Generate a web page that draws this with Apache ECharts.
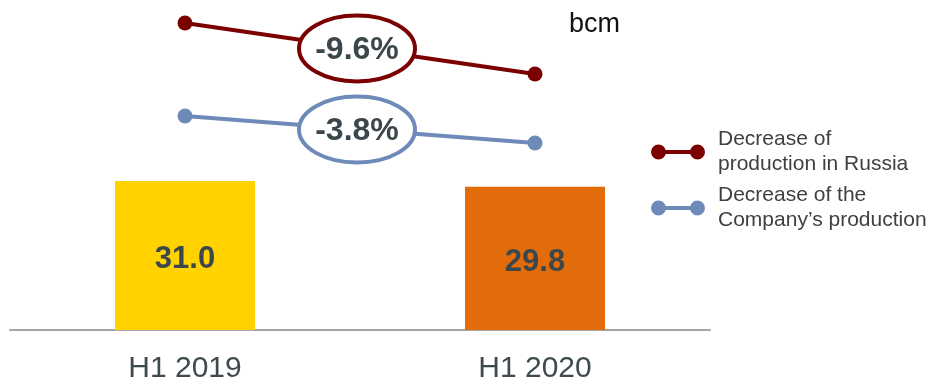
<!DOCTYPE html>
<html>
<head>
<meta charset="utf-8">
<style>
  html, body { margin: 0; padding: 0; background: #fff; }
  #chart { width: 932px; height: 379px; }
</style>
<script src="https://cdn.jsdelivr.net/npm/echarts@6/dist/echarts.min.js"></script>
</head>
<body>
<div id="chart"></div>
<script>
// 数据
const categories = ['H1 2019', 'H1 2020'];
const production = [31.0, 29.8];
const russiaIndex = [100, 90.4];
const companyIndex = [100, 96.2];
const changeLabels = ['-9.6%', '-3.8%'];
const seriesNames = ['Decrease of\nproduction in Russia', 'Decrease of the\nCompany\u2019s production'];

const FONT = '"Liberation Sans", Arial, sans-serif';
const barColors = ['#FFD200', '#E36C0A'];
const lineColors = ['#7B0000', '#6D8AB9'];
const dumbbell = 'path://M0,7.5A7.5,7.5,0,1,1,15,7.5A7.5,7.5,0,1,1,0,7.5Z M39,7.5A7.5,7.5,0,1,1,54,7.5A7.5,7.5,0,1,1,39,7.5Z M7.5,5.5L46.5,5.5L46.5,9.5L7.5,9.5Z';

const chart = echarts.init(document.getElementById('chart'));

function lineSeries(name, data, axis, color) {
    return {
        name: name,
        type: 'line',
        yAxisIndex: axis,
        data: data,
        symbol: 'circle',
        symbolSize: 15,
        lineStyle: { color: color, width: 4 },
        itemStyle: { color: color },
        z: 5
    };
}

chart.setOption({
    animation: false,
    title: {
        text: 'bcm',
        left: 564,
        top: 6,
        textStyle: { fontFamily: FONT, fontSize: 27, fontWeight: 'normal', color: '#111' }
    },
    legend: {
        orient: 'vertical',
        left: 646,
        top: 122,
        itemWidth: 54,
        itemHeight: 15,
        itemGap: 6,
        data: seriesNames.map(n => ({ name: n, icon: dumbbell })),
        textStyle: { fontFamily: FONT, fontSize: 21, lineHeight: 25, color: '#404040', padding: [0, 0, 0, 8] }
    },
    grid: { left: 10, right: 222, top: 0, bottom: 49, containLabel: false, outerBoundsMode: 'none' },
    xAxis: {
        type: 'category',
        data: categories,
        axisLine: { lineStyle: { color: '#A6A6A6', width: 2 } },
        axisTick: { show: false },
        axisLabel: { fontFamily: FONT, fontSize: 30, color: '#3F4A50', margin: 24 }
    },
    yAxis: [
        { type: 'value', min: 0, max: 68.7, show: false, splitLine: { show: false } },
        { type: 'value', min: 42.21, max: 104.33, show: false, splitLine: { show: false } },
        { type: 'value', min: 69.89, max: 116.33, show: false, splitLine: { show: false } }
    ],
    series: [
        {
            type: 'bar',
            barWidth: '40%',
            data: production.map((v, i) => ({ value: v, itemStyle: { color: barColors[i] } })),
            label: {
                show: true,
                position: 'inside',
                offset: [0, 4],
                fontFamily: FONT,
                fontSize: 31,
                fontWeight: 'bold',
                color: '#3C474C',
                formatter: p => p.value.toFixed(1)
            }
        },
        lineSeries(seriesNames[0], russiaIndex, 1, lineColors[0]),
        lineSeries(seriesNames[1], companyIndex, 2, lineColors[1])
    ]
});

// 椭圆标注：放在两点连线的中点
const graphics = [];
[russiaIndex, companyIndex].forEach((data, k) => {
    const a = chart.convertToPixel({ seriesIndex: k + 1 }, [0, data[0]]);
    const b = chart.convertToPixel({ seriesIndex: k + 1 }, [1, data[1]]);
    const cx = (a[0] + b[0]) / 2 - 3;
    const cy = (a[1] + b[1]) / 2;
    graphics.push({
        type: 'ellipse',
        shape: { cx: cx, cy: cy, rx: 58, ry: 33 },
        style: { fill: '#fff', stroke: lineColors[k], lineWidth: 4 },
        z: 20
    });
    graphics.push({
        type: 'text',
        x: cx,
        y: cy + 2,
        style: {
            text: changeLabels[k],
            fill: '#3C474C',
            font: 'bold 32px ' + FONT,
            textAlign: 'center',
            textVerticalAlign: 'middle',
            align: 'center',
            verticalAlign: 'middle'
        },
        z: 21
    });
});
chart.setOption({ graphic: graphics });
</script>
</body>
</html>
